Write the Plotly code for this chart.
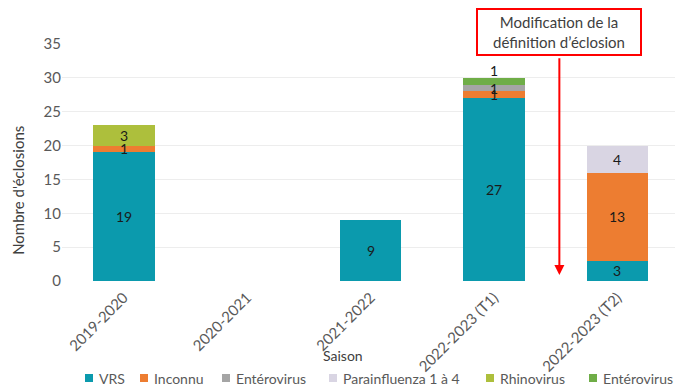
import plotly.graph_objects as go

# Saisons et nombre d'éclosions par agent
saisons = ["2019-2020", "2020-2021", "2021-2022", "2022-2023 (T1)", "2022-2023 (T2)"]
series_noms = ["VRS", "Inconnu", "Entérovirus", "Parainfluenza 1 à 4", "Rhinovirus", "Entérovirus"]
vrs = [19, 0, 9, 27, 3]
inconnu = [1, 0, 0, 1, 13]
enterovirus_gris = [0, 0, 0, 1, 0]
parainfluenza = [0, 0, 0, 0, 4]
rhinovirus = [3, 0, 0, 0, 0]
enterovirus_vert = [0, 0, 0, 1, 0]
couleurs = ["#0B9AAD", "#ED7D31", "#A5A5A5", "#D9D5E3", "#ADBF3C", "#6FAD47"]
y_ticks = [0, 5, 10, 15, 20, 25, 30, 35]

series = [vrs, inconnu, enterovirus_gris, parainfluenza, rhinovirus, enterovirus_vert]
police = "Lato, 'Open Sans', sans-serif"

# Géométrie de la zone de tracé (pixels)
W, H = 675, 388
ML, MR, MT, MB = 62, 0, 44, 107
PW, PH = W - ML - MR, H - MT - MB


def px_x(px):
    return (px - ML) / PW


def px_y(py):
    return (H - MB - py) / PH


fig = go.Figure()
for nom, vals, coul in zip(series_noms, series, couleurs):
    fig.add_trace(go.Bar(
        x=saisons, y=vals, name=nom,
        marker=dict(color=coul, line=dict(width=0)),
        width=0.5, showlegend=False,
    ))

# Étiquettes de valeurs centrées sur chaque segment
annotations = []
base = [0] * len(saisons)
for idx, vals in enumerate(series):
    for i, v in enumerate(vals):
        if v > 0:
            centre = base[i] + v / 2
            decal = 0
            # la dernière étiquette de la pile T1 est placée au-dessus de la barre
            if idx == len(series) - 1 and i == 3:
                decal = 11
            annotations.append(dict(
                x=saisons[i], y=centre, text=str(v), showarrow=False,
                font=dict(size=14, color="#1a1a1a", family=police),
                yshift=decal, xref="x", yref="y",
            ))
        base[i] += v

# Flèche et encadré signalant le changement de définition
annotations.append(dict(
    x=3.53, y=0.9, ax=3.53, ay=33.1, xref="x", yref="y", axref="x", ayref="y",
    showarrow=True, arrowhead=2, arrowsize=1, arrowwidth=2, arrowcolor="#FF0000", text="",
))
annotations.append(dict(
    x=3.53, y=33.2, xref="x", yref="y", yanchor="bottom",
    text="Modification de la<br>définition d’éclosion", showarrow=False,
    font=dict(size=15, color="#404040", family=police),
    bordercolor="#FF0000", borderwidth=2, borderpad=1, bgcolor="white",
    width=160, height=42,
))
annotations.append(dict(
    x=0.459, y=-0.316, xref="paper", yref="paper", yanchor="middle", text="Saison", showarrow=False,
    font=dict(size=14, color="#404040", family=police),
))
annotations.append(dict(
    x=-0.072, y=0.384, xref="paper", yref="paper", xanchor="center", yanchor="middle",
    text="Nombre d'éclosions", showarrow=False,
    textangle=-90, font=dict(size=15, color="#404040", family=police),
))

# Légende horizontale sous le graphique
legende_x = [85, 140, 222, 329, 486, 589]
legende_y = 378
shapes = []
for nom, coul, lx in zip(series_noms, couleurs, legende_x):
    shapes.append(dict(
        type="rect", xref="paper", yref="paper",
        x0=px_x(lx), x1=px_x(lx + 8), y0=px_y(legende_y + 4), y1=px_y(legende_y - 4),
        fillcolor=coul, line=dict(width=0),
    ))
    annotations.append(dict(
        x=px_x(lx + 12), y=px_y(legende_y), xref="paper", yref="paper",
        xanchor="left", yanchor="middle", text=nom, showarrow=False,
        font=dict(size=14, color="#595959", family=police),
    ))

fig.update_layout(
    barmode="stack",
    width=W, height=H,
    margin=dict(l=ML, r=MR, t=MT, b=MB, autoexpand=False),
    plot_bgcolor="white", paper_bgcolor="white",
    font=dict(family=police, color="#595959", size=14),
    bargap=0.5,
    xaxis=dict(
        range=[-0.5, 4.467], tickangle=-45, showgrid=False, zeroline=False,
        tickfont=dict(size=15, color="#595959"), ticks="", showline=False,
        automargin=False, ticklabelstandoff=4,
    ),
    yaxis=dict(
        range=[0, 35], tickvals=y_ticks, gridcolor="#EDEDED", gridwidth=1,
        zeroline=False, showline=False, ticks="", automargin=False,
        tickfont=dict(size=15, color="#595959"),
    ),
    annotations=annotations,
    shapes=shapes,
    showlegend=False,
)

fig.write_html("out.html")
